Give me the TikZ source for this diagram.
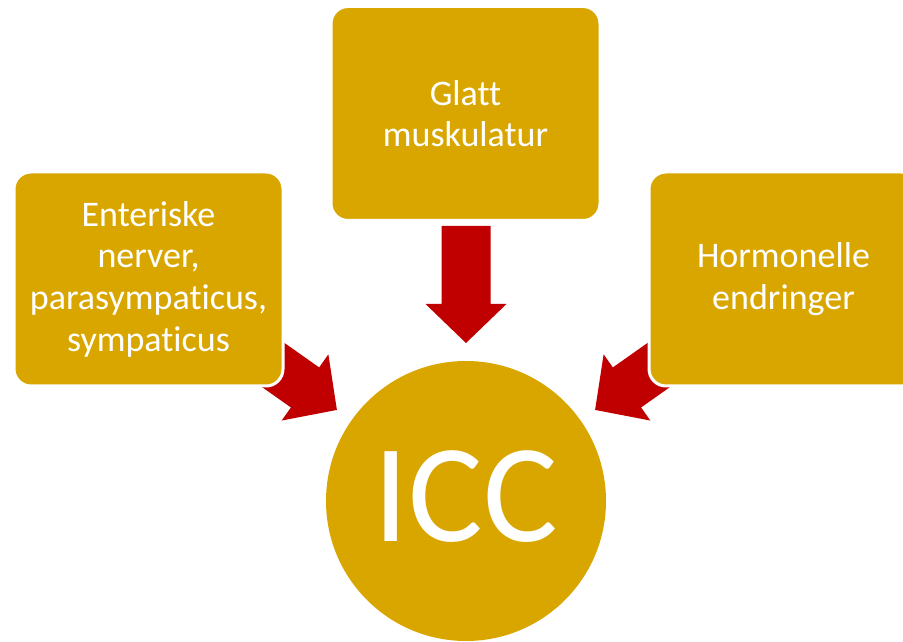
\documentclass[tikz,border=0pt]{standalone}
\usepackage{fontspec}
\setmainfont{Carlito}[Ligatures=NoCommon]
\usetikzlibrary{calc}
\definecolor{gold}{HTML}{D9A600}
\definecolor{arrowred}{HTML}{C00000}
\tikzset{
  box/.style={rectangle, rounded corners=17pt, fill=gold, draw=white, line width=3pt,
    minimum width=269pt, minimum height=214pt, inner sep=0pt, text=white, align=center,
    font=\fontsize{36}{41.7}\selectfont},
  hub/.style={circle, fill=gold, minimum size=280pt, inner sep=0pt},
  barrow/.pic={\fill[arrowred] (0,0) -- (-39,40.5) -- (-39,24.5) -- (-117,24.5)
     -- (-117,-24.5) -- (-39,-24.5) -- (-39,-40.5) -- cycle;}
}
\begin{document}
\begin{tikzpicture}[x=1pt,y=1pt]
\useasboundingbox (0,0) rectangle (903,641);
\clip (0,0) rectangle (903,641);
\coordinate (c) at (466,140);
% block arrows pointing at the hub
\pic[rotate=270] at ($(c)+(90:158pt)$) {barrow};
\pic[rotate=-35.2] at ($(c)+(144.8:158pt)$) {barrow};
\pic[rotate=215.2] at ($(c)+(35.2:158pt)$) {barrow};
% boxes
\node[box] (left) at (148.5,362) {Enteriske\\nerver,\\parasympaticus,\\sympaticus};
\node[box] (top) at (465.5,527.5) {Glatt\\muskulatur};
\node[box] (right) at (783.5,362) {Hormonelle\\endringer};
% hub
\node[hub] (icc) at (c) {};
\node[text=white, font=\fontsize{140}{150}\selectfont, inner sep=0pt] (icctext) at ($(c)+(0,4)$) {ICC};
\end{tikzpicture}
\end{document}
